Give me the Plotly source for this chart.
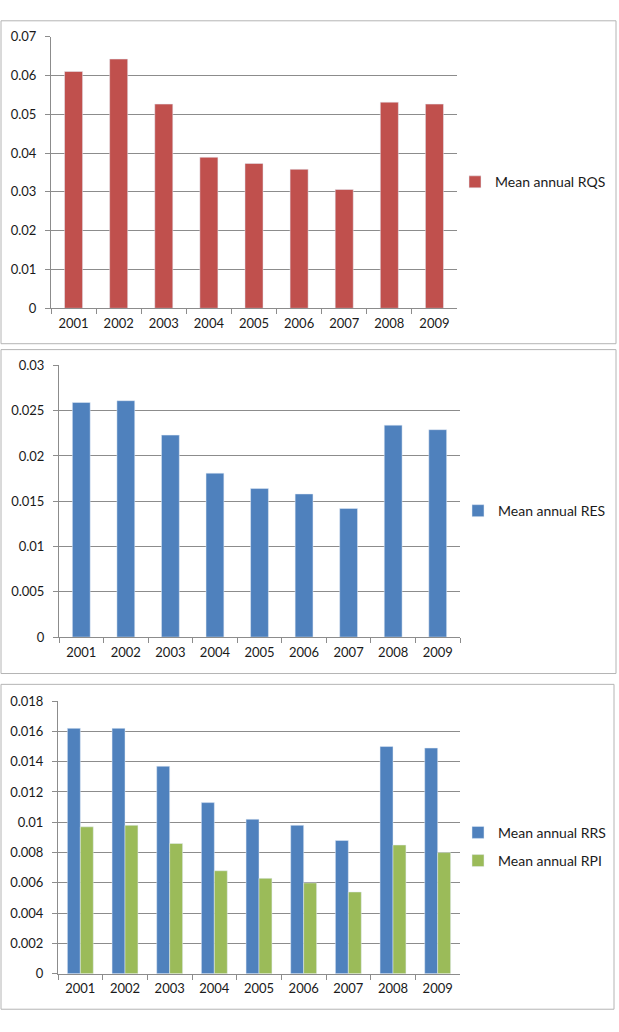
import plotly.graph_objects as go

W, H = 619, 1032

years = ["2001", "2002", "2003", "2004", "2005", "2006", "2007", "2008", "2009"]
rqs = [0.0610, 0.0642, 0.0526, 0.0389, 0.0373, 0.0358, 0.0306, 0.0531, 0.0526]
res = [0.0259, 0.0261, 0.0223, 0.0181, 0.0164, 0.0158, 0.0142, 0.0234, 0.0229]
rrs = [0.0162, 0.0162, 0.0137, 0.0113, 0.0102, 0.0098, 0.0088, 0.0150, 0.0149]
rpi = [0.0097, 0.0098, 0.0086, 0.0068, 0.0063, 0.0060, 0.0054, 0.0085, 0.0080]

y1_ticks = [0, 0.01, 0.02, 0.03, 0.04, 0.05, 0.06, 0.07]
y1_labels = ["0", "0.01", "0.02", "0.03", "0.04", "0.05", "0.06", "0.07"]
y2_ticks = [0, 0.005, 0.01, 0.015, 0.02, 0.025, 0.03]
y2_labels = ["0", "0.005", "0.01", "0.015", "0.02", "0.025", "0.03"]
y3_ticks = [0, 0.002, 0.004, 0.006, 0.008, 0.01, 0.012, 0.014, 0.016, 0.018]
y3_labels = ["0", "0.002", "0.004", "0.006", "0.008", "0.01", "0.012", "0.014", "0.016", "0.018"]

RED = "#C0504D"
BLUE = "#4F81BD"
GREEN = "#9BBB59"
GRID = "#8c8c8c"
FONT = "Lato"
TXT = "#1a1a1a"


def px_x(p):
    return p / W


def px_y(p):
    return 1 - p / H


fig = go.Figure()

fig.add_trace(go.Bar(x=years, y=rqs, name="Mean annual RQS", marker_color=RED,
                     width=0.4, xaxis="x", yaxis="y", legend="legend"))
fig.add_trace(go.Bar(x=years, y=res, name="Mean annual RES", marker_color=BLUE,
                     width=0.4, xaxis="x2", yaxis="y2", legend="legend2"))
fig.add_trace(go.Bar(x=years, y=rrs, name="Mean annual RRS", marker_color=BLUE,
                     width=0.29, offset=-0.29, xaxis="x3", yaxis="y3",
                     legend="legend3", legendgroup="a"))
fig.add_trace(go.Bar(x=years, y=rpi, name="Mean annual RPI", marker_color=GREEN,
                     width=0.29, offset=0.0, xaxis="x3", yaxis="y3",
                     legend="legend3", legendgroup="b"))

xax = dict(type="category", showgrid=False, showline=True, linecolor=GRID, linewidth=1,
           ticks="outside", tickson="boundaries", ticklen=5, tickcolor=GRID,
           tickfont=dict(family=FONT, size=13, color=TXT), ticklabelstandoff=3,
           zeroline=False, fixedrange=True)


def yax(rng, tv, tt, anchor):
    return dict(range=rng, tickvals=tv, ticktext=tt, showgrid=True, gridcolor=GRID,
                gridwidth=1, showline=True, linecolor=GRID, linewidth=1,
                ticks="outside", ticklen=5, tickcolor=GRID, zeroline=False,
                tickfont=dict(family=FONT, size=13, color=TXT), ticklabelstandoff=6,
                anchor=anchor)


def leg(xp, yp, gap=0):
    return dict(x=px_x(xp), y=px_y(yp), xanchor="left", yanchor="middle",
                xref="paper", yref="paper", bgcolor="rgba(0,0,0,0)",
                font=dict(family=FONT, size=14, color=TXT), itemwidth=30,
                traceorder="grouped", tracegroupgap=gap)


fig.update_layout(
    width=W, height=H,
    margin=dict(l=0, r=0, t=0, b=0),
    paper_bgcolor="white", plot_bgcolor="white",
    showlegend=True,
    xaxis=dict(xax, domain=[px_x(51), px_x(457)], anchor="y"),
    yaxis=yax([0, 0.07], y1_ticks, y1_labels, "x") | dict(domain=[px_y(305), px_y(29)]),
    xaxis2=dict(xax, domain=[px_x(59), px_x(460)], anchor="y2"),
    yaxis2=yax([0, 0.03], y2_ticks, y2_labels, "x2") | dict(domain=[px_y(639), px_y(363)]),
    xaxis3=dict(xax, domain=[px_x(58), px_x(460)], anchor="y3"),
    yaxis3=yax([0, 0.018], y3_ticks, y3_labels, "x3") | dict(domain=[px_y(981), px_y(704)]),
    legend=leg(455, 177),
    legend2=leg(458, 511),
    legend3=leg(458, 852, gap=7),
)

panels = [(1, 13, 616, 341), (1, 347, 616, 676), (1, 687, 614, 1017)]
for (x0, y0, x1, y1) in panels:
    fig.add_shape(type="rect", xref="paper", yref="paper",
                  x0=px_x(x0), x1=px_x(x1), y0=px_y(y0), y1=px_y(y1),
                  line=dict(color="#b4b4b4", width=1), fillcolor="rgba(0,0,0,0)",
                  layer="below")

fig.write_html("out.html")
